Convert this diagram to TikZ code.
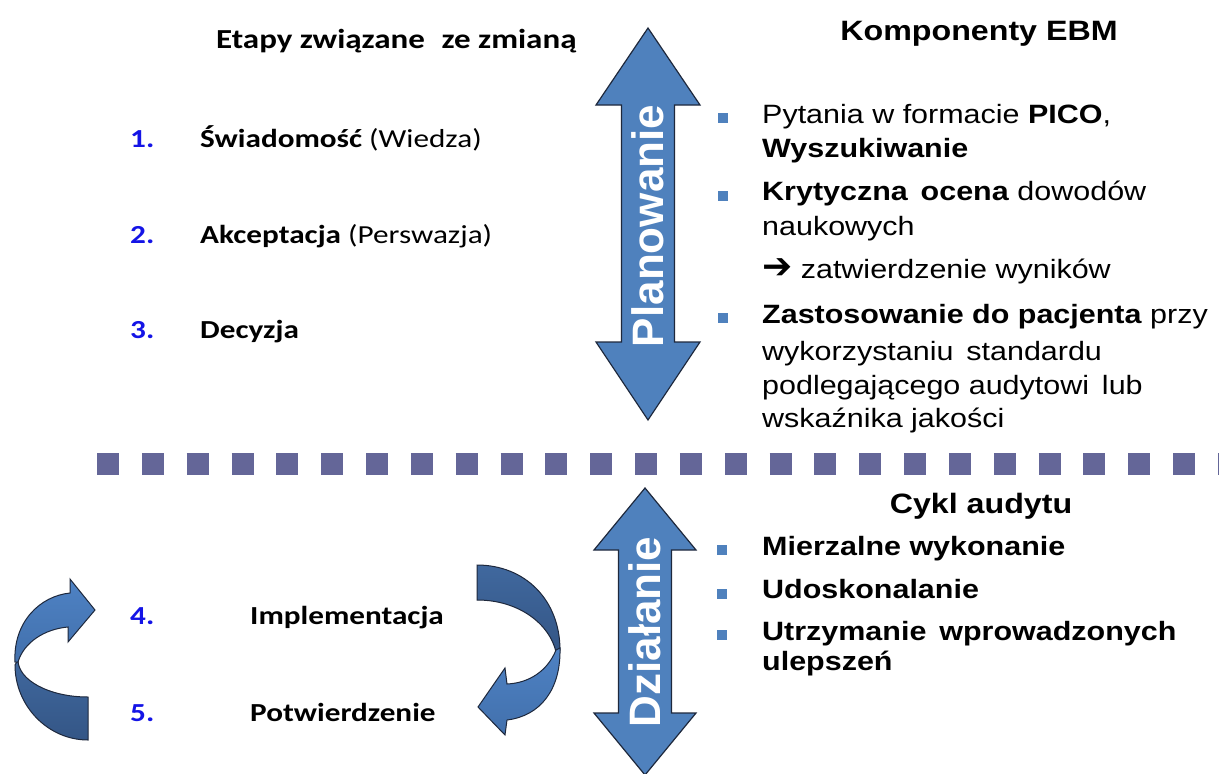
\documentclass[tikz,border=0pt]{standalone}
\usepackage{fontspec}
\setmainfont{Liberation Sans}
\newfontfamily\arialx[FakeStretch=1.15]{Liberation Sans}
\newfontfamily\calib[FakeStretch=1.2]{Carlito}
\newfontfamily\dejavu{DejaVu Sans}
\definecolor{arrblue}{RGB}{79,129,189}
\definecolor{arrline}{RGB}{30,40,60}
\definecolor{bandlight}{RGB}{78,130,196}
\definecolor{bandlight2}{RGB}{66,112,172}
\definecolor{banddark}{RGB}{64,104,158}
\definecolor{banddark2}{RGB}{52,86,134}
\definecolor{bulblue}{RGB}{79,129,189}
\definecolor{numblue}{RGB}{20,20,230}
\definecolor{dashcol}{RGB}{100,102,152}
\tikzset{
  rtxt/.style={anchor=base west, inner sep=0pt, font=\arialx\fontsize{26.5}{34}\selectfont},
  rhead/.style={anchor=base, inner sep=0pt, font=\arialx\bfseries\fontsize{28}{34}\selectfont},
  ltxt/.style={anchor=base west, inner sep=0pt, font=\calib\bfseries\fontsize{26}{30}\selectfont},
  ltitle/.style={ltxt, font=\calib\bfseries\fontsize{27.5}{30}\selectfont},
  num/.style={ltxt, text=numblue},
  bul/.style={fill=bulblue, minimum size=10pt, inner sep=0pt},
  bigarrow/.style={fill=arrblue, draw=arrline, line width=1.2pt, line join=miter},
  arrlbl/.style={anchor=base, rotate=90, text=white, inner sep=0pt, font=\bfseries\fontsize{44}{44}\selectfont},
  bandF/.style={top color=bandlight, bottom color=bandlight2, draw=arrline, line width=1pt},
  bandB/.style={top color=banddark, bottom color=banddark2, draw=arrline, line width=1pt},
}
\begin{document}
\begin{tikzpicture}[x=1pt,y=-1pt]
\useasboundingbox (0,0) rectangle (1219,774);

% ---- left header and items
\node[ltitle] (title) at (216,48) {Etapy związane\,\, ze zmianą};
\node[num] (n1) at (130,147) {1.};
\node[ltxt] (i1) at (200,147) {Świadomość \mdseries(Wiedza)};
\node[num] (n2) at (130,243) {2.};
\node[ltxt] (i2) at (200,243) {Akceptacja \mdseries(Perswazja)};
\node[num] (n3) at (130,338) {3.};
\node[ltxt] (i3) at (200,338) {Decyzja};
\node[num] (n4) at (130,624) {4.};
\node[ltxt] (i4) at (250,624) {Implementacja};
\node[num] (n5) at (130,721) {5.};
\node[ltxt] (i5) at (250,721) {Potwierdzenie};

% ---- big double arrows
\draw[bigarrow] (648,28) -- (700,105) -- (674.5,105) -- (674.5,342) -- (700,342) -- (648,420)
  -- (596,342) -- (621.5,342) -- (621.5,105) -- (596,105) -- cycle;
\node[arrlbl] (plan) at (663,226) {Planowanie};
\draw[bigarrow] (645,488) -- (696,550) -- (671.5,550) -- (671.5,713) -- (696,713) -- (645,775)
  -- (594,713) -- (618.5,713) -- (618.5,550) -- (594,550) -- cycle;
\node[arrlbl] (dzial) at (660,632) {Działanie};

% ---- dotted separator
\draw[dashcol, line width=22pt, dash pattern=on 22pt off 22.84pt] (97,464) -- (1240,464);

% ---- right header
\node[rhead] (komp) at (979,40) {Komponenty EBM};
\node[bul] (b1) at (723,118) {};
\node[rtxt] (t1a) at (762,123) {Pytania w formacie \textbf{PICO},};
\node[rtxt] (t1b) at (762,157) {\bfseries Wyszukiwanie};
\node[bul] (b2) at (723,196) {};
\node[rtxt] (t2a) at (762,200) {\textbf{Krytyczna\, ocena} dowodów};
\node[rtxt] (t2b) at (762,235) {naukowych};
\node[rtxt] (t2c) at (762,278) {{\dejavu\bfseries\fontsize{36}{34}\selectfont ➔} zatwierdzenie wyników};
\node[bul] (b3) at (723,318) {};
\node[rtxt] (t3a) at (762,323) {\textbf{Zastosowanie do pacjenta} przy};
\node[rtxt] (t3b) at (762,360) {wykorzystaniu\, standardu};
\node[rtxt] (t3c) at (762,394) {podlegającego audytowi\, lub};
\node[rtxt] (t3d) at (762,427) {wskaźnika jakości};

\node[rhead] (cykl) at (981,513) {Cykl audytu};
\node[bul] (c1) at (722,550) {};
\node[rtxt] (u1) at (762,555) {\bfseries Mierzalne wykonanie};
\node[bul] (c2) at (722,594) {};
\node[rtxt] (u2) at (762,598) {\bfseries Udoskonalanie};
\node[bul] (c3) at (722,635) {};
\node[rtxt] (u3a) at (762,640) {\bfseries Utrzymanie\, wprowadzonych};
\node[rtxt] (u3b) at (762,670) {\bfseries ulepszeń};

% ---- left curved arrow (tail bottom-right, head top-right)
\path[bandB] (88,740) -- (88,697) .. controls (49,697) and (18,680) .. (18,660)
  -- (15,665) .. controls (15,706) and (48,740) .. (88,740) -- cycle;
\path[bandF] (15,662) .. controls (13,622) and (40,596) .. (70,593) -- (70,579) -- (95,610)
  -- (68,642) -- (68,627) .. controls (45,629) and (24,642) .. (18,662) -- cycle;

% ---- right curved arrow (tail top-left, head bottom-left)
\path[bandB] (477,565) .. controls (525,565) and (560,600) .. (560,650)
  -- (556,652) .. controls (550,625) and (520,600) .. (477,600) -- cycle;
\path[bandF] (556,650) .. controls (548,670) and (530,683) .. (507,684) -- (505,668) -- (478,707)
  -- (505,735) -- (507,720) .. controls (540,716) and (561,690) .. (560,648) -- cycle;
\end{tikzpicture}
\end{document}
